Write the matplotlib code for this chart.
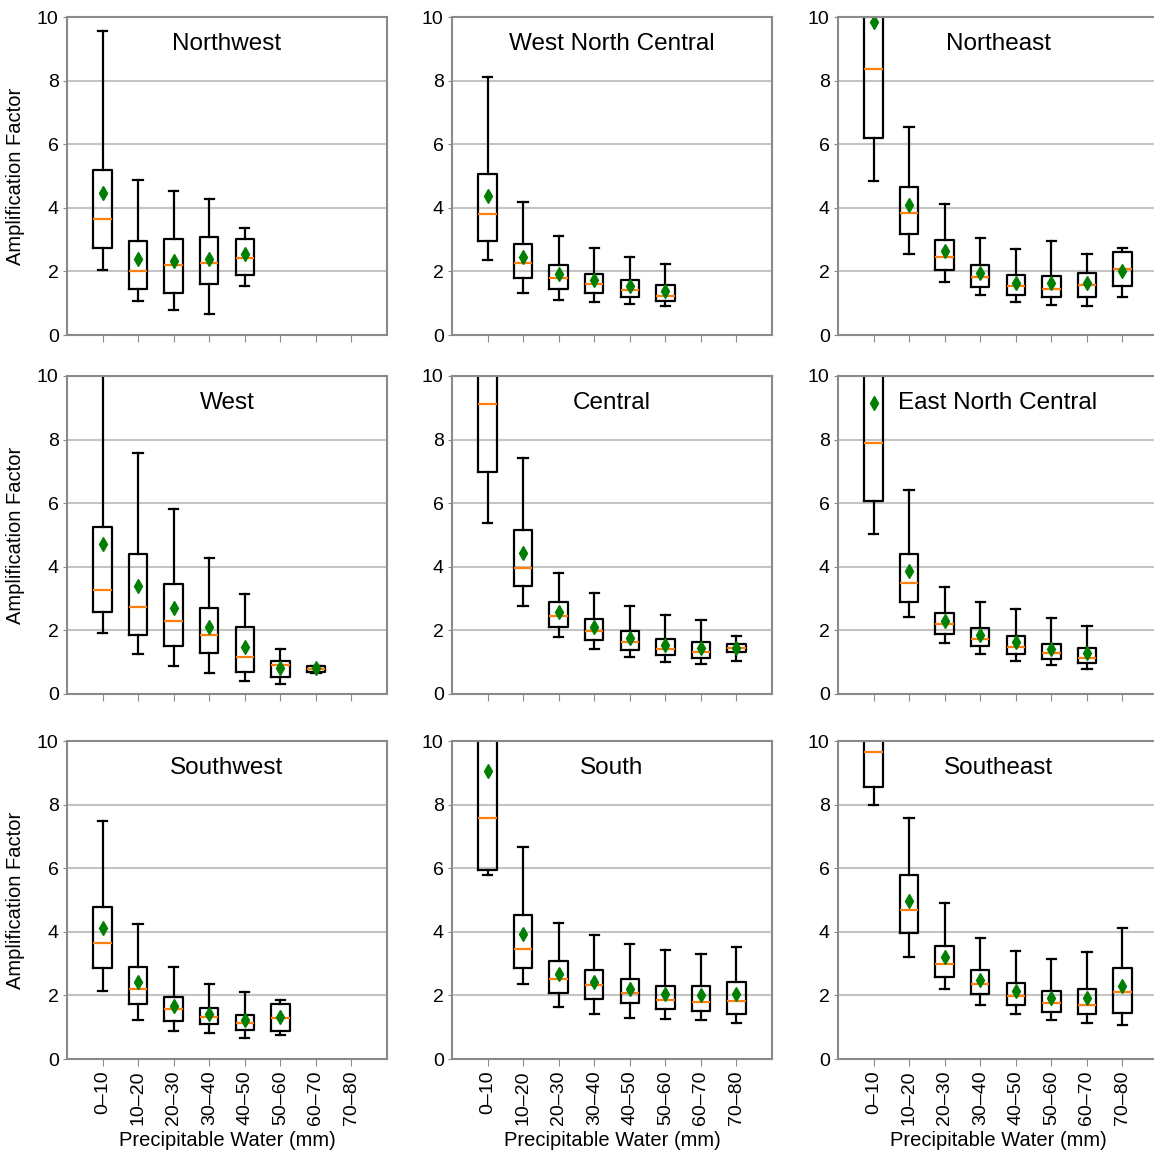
import matplotlib
matplotlib.use('Agg')
import matplotlib.pyplot as plt

plt.rcParams['font.family'] = ['Liberation Sans', 'DejaVu Sans']

# bins of precipitable water
bins = ['0–10', '10–20', '20–30', '30–40', '40–50', '50–60', '60–70', '70–80']

# per region: (whisker low, q1, median, q3, whisker high, mean) for each bin
northwest = [(2.04, 2.74, 3.65, 5.18, 9.56, 4.45), (1.06, 1.46, 2.01, 2.95, 4.88, 2.39),
             (0.79, 1.31, 2.19, 3.02, 4.53, 2.32), (0.66, 1.59, 2.27, 3.09, 4.29, 2.38),
             (1.53, 1.88, 2.43, 3.01, 3.37, 2.54)]
west_north_central = [(2.35, 2.97, 3.79, 5.05, 8.11, 4.36), (1.32, 1.79, 2.26, 2.85, 4.18, 2.45),
                      (1.09, 1.45, 1.79, 2.21, 3.11, 1.93), (1.04, 1.32, 1.59, 1.93, 2.74, 1.72),
                      (0.97, 1.18, 1.41, 1.73, 2.45, 1.53), (0.91, 1.06, 1.24, 1.57, 2.23, 1.39)]
northeast = [(4.84, 6.18, 8.37, 12.0, 18.0, 9.84), (2.55, 3.18, 3.84, 4.66, 6.53, 4.08),
             (1.68, 2.03, 2.44, 2.99, 4.13, 2.63), (1.25, 1.51, 1.82, 2.21, 3.05, 1.94),
             (1.05, 1.25, 1.54, 1.88, 2.72, 1.65), (0.95, 1.20, 1.45, 1.85, 2.97, 1.64),
             (0.92, 1.20, 1.56, 1.95, 2.55, 1.63), (1.18, 1.55, 2.09, 2.62, 2.74, 2.02)]
west = [(1.91, 2.57, 3.28, 5.24, 12.5, 4.73), (1.26, 1.85, 2.73, 4.40, 7.59, 3.40),
        (0.87, 1.51, 2.29, 3.47, 5.82, 2.71), (0.67, 1.29, 1.84, 2.71, 4.27, 2.12),
        (0.42, 0.68, 1.16, 2.12, 3.15, 1.47), (0.31, 0.54, 0.91, 1.05, 1.41, 0.83),
        (0.67, 0.69, 0.79, 0.87, 0.89, 0.81)]
central = [(5.39, 6.97, 9.13, 12.0, 17.0, 10.6), (2.78, 3.41, 3.97, 5.17, 7.41, 4.44),
           (1.79, 2.11, 2.44, 2.88, 3.82, 2.59), (1.41, 1.71, 1.99, 2.37, 3.17, 2.12),
           (1.16, 1.39, 1.63, 1.98, 2.76, 1.76), (1.01, 1.22, 1.42, 1.74, 2.47, 1.55),
           (0.95, 1.12, 1.32, 1.64, 2.34, 1.44), (1.03, 1.33, 1.45, 1.57, 1.81, 1.44)]
east_north_central = [(5.02, 6.07, 7.88, 11.5, 16.0, 9.14), (2.43, 2.89, 3.49, 4.39, 6.40, 3.88),
                      (1.61, 1.90, 2.19, 2.55, 3.35, 2.30), (1.26, 1.50, 1.73, 2.07, 2.89, 1.87),
                      (1.04, 1.27, 1.48, 1.81, 2.68, 1.62), (0.92, 1.09, 1.28, 1.58, 2.38, 1.40),
                      (0.80, 0.99, 1.14, 1.45, 2.13, 1.28)]
southwest = [(2.13, 2.85, 3.66, 4.79, 7.47, 4.11), (1.23, 1.72, 2.21, 2.90, 4.24, 2.43),
             (0.87, 1.21, 1.56, 1.95, 2.88, 1.68), (0.83, 1.09, 1.32, 1.61, 2.36, 1.43),
             (0.65, 0.91, 1.12, 1.39, 2.12, 1.23), (0.76, 0.87, 1.28, 1.72, 1.85, 1.33)]
south = [(5.78, 5.95, 7.57, 11.5, 16.0, 9.05), (2.37, 2.86, 3.46, 4.53, 6.66, 3.92),
         (1.62, 2.06, 2.51, 3.09, 4.27, 2.67), (1.40, 1.88, 2.32, 2.79, 3.89, 2.42),
         (1.29, 1.76, 2.09, 2.53, 3.63, 2.21), (1.27, 1.56, 1.85, 2.28, 3.44, 2.03),
         (1.23, 1.51, 1.78, 2.31, 3.29, 2.01), (1.14, 1.41, 1.81, 2.42, 3.53, 2.03)]
southeast = [(7.99, 8.54, 9.65, 12.5, 18.0, 11.2), (3.22, 3.96, 4.70, 5.80, 7.59, 4.96),
             (2.19, 2.59, 2.98, 3.55, 4.90, 3.20), (1.71, 2.04, 2.35, 2.79, 3.81, 2.50),
             (1.42, 1.71, 1.99, 2.39, 3.41, 2.15), (1.23, 1.49, 1.76, 2.15, 3.16, 1.92),
             (1.13, 1.41, 1.71, 2.20, 3.37, 1.92), (1.07, 1.46, 2.11, 2.86, 4.11, 2.29)]

regions = [('Northwest', northwest), ('West North Central', west_north_central), ('Northeast', northeast),
           ('West', west), ('Central', central), ('East North Central', east_north_central),
           ('Southwest', southwest), ('South', south), ('Southeast', southeast)]

W = H = 1154
fig = plt.figure(figsize=(W / 100, H / 100), dpi=100)

col_left = [67, 452, 838]
row_top = [17, 376, 741]
ax_w, ax_h = 320, 318
frame_col = '#8a8a8a'

for i, (name, rows) in enumerate(regions):
    r, c = divmod(i, 3)
    ax = fig.add_axes([col_left[c] / W, 1 - (row_top[r] + ax_h) / H, ax_w / W, ax_h / H])

    stats = [dict(whislo=lo, q1=q1, med=med, q3=q3, whishi=hi, mean=mn, fliers=[])
             for lo, q1, med, q3, hi, mn in rows]
    ax.bxp(stats, positions=range(1, len(stats) + 1), widths=0.52, showmeans=True,
           boxprops=dict(color='black', linewidth=1.6),
           whiskerprops=dict(color='black', linewidth=1.6),
           capprops=dict(color='black', linewidth=1.6),
           medianprops=dict(color='#ff7f0e', linewidth=1.6),
           meanprops=dict(marker='d', markerfacecolor='#008000', markeredgecolor='#008000',
                          markersize=7.5))

    ax.set_xlim(0, 9)
    ax.set_ylim(0, 10)
    ax.set_yticks([0, 2, 4, 6, 8, 10])
    ax.set_xticks(range(1, 9))
    ax.yaxis.grid(True, color='#c4c4c4', linewidth=1.5)
    ax.set_axisbelow(True)
    for sp in ax.spines.values():
        sp.set_color(frame_col)
        sp.set_linewidth(1.5)
    ax.tick_params(axis='y', length=3, color=frame_col, labelsize=14, pad=3)
    ax.tick_params(axis='x', length=5, color=frame_col, labelsize=14, pad=3)

    if r == 2:
        ax.set_xticklabels(bins, rotation=90)
        ax.set_xlabel('Precipitable Water (mm)', fontsize=14.5)
        ax.xaxis.set_label_coords(0.5, -0.225)
    else:
        ax.set_xticklabels([])
    if c == 0:
        ax.set_ylabel('Amplification Factor', fontsize=14.5)
        ax.yaxis.set_label_coords(-0.13, 0.5)

    ax.text(0.5, 0.915, name, transform=ax.transAxes, ha='center', va='center', fontsize=17.5)

fig.savefig('out.png', dpi=100)
